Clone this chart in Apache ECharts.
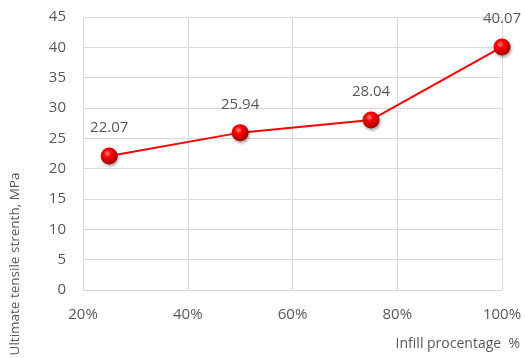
<!DOCTYPE html>
<html lang="en">
<head>
    <meta charset="utf-8">
    <title>Ultimate tensile strength</title>
    <script src="https://cdn.jsdelivr.net/npm/echarts@6/dist/echarts.min.js"></script>
    <style>
        html, body { margin: 0; padding: 0; background: #fff; }
        #chart { width: 525px; height: 358px; }
    </style>
</head>
<body>
    <div id="chart"></div>
    <script>
        // infill percentage and measured strength
        var infill = [25, 50, 75, 100];
        var strength = [22.07, 25.94, 28.04, 40.07];
        var xTicks = [20, 40, 60, 80, 100];

        var pts = infill.map(function (x, i) { return [x, strength[i]]; });
        var txt = '#595959';
        var font = 'Open Sans';

        var chart = echarts.init(document.getElementById('chart'));
        chart.setOption({
            animation: false,
            grid: { left: 83, right: 23, top: 17, bottom: 68, outerBoundsMode: 'none' },
            // y title sits low, like the original, so it is drawn as graphic text
            graphic: [{
                type: 'text',
                x: 15,
                y: 264,
                rotation: Math.PI / 2,
                style: {
                    text: 'Ultimate tensile strenth, MPa',
                    fill: txt,
                    font: '13.5px "Open Sans"',
                    textAlign: 'center',
                    textVerticalAlign: 'middle'
                }
            }],
            xAxis: {
                type: 'value',
                min: xTicks[0],
                max: xTicks[xTicks.length - 1],
                interval: 20,
                name: 'Infill procentage  %',
                nameLocation: 'end',
                nameGap: 0,
                nameTextStyle: {
                    color: txt, fontFamily: font, fontSize: 14,
                    align: 'right', verticalAlign: 'top', padding: [47, -18, 0, 0]
                },
                axisLine: { show: true, lineStyle: { color: '#d9d9d9' } },
                axisTick: { show: false },
                splitLine: { show: true, lineStyle: { color: '#d9d9d9' } },
                axisLabel: {
                    color: txt, fontFamily: font, fontSize: 15, margin: 17,
                    formatter: '{value}%'
                }
            },
            yAxis: {
                type: 'value',
                min: 0,
                max: 45,
                interval: 5,
                axisLine: { show: false },
                axisTick: { show: false },
                splitLine: { lineStyle: { color: '#d9d9d9' } },
                axisLabel: { color: txt, fontFamily: font, fontSize: 15, margin: 17 }
            },
            series: [{
                type: 'line',
                data: pts,
                symbol: 'circle',
                symbolSize: 17,
                lineStyle: { color: '#ff0000', width: 2 },
                itemStyle: {
                    color: {
                        type: 'radial', x: 0.4, y: 0.35, r: 0.65,
                        colorStops: [
                            { offset: 0, color: '#ff8080' },
                            { offset: 0.35, color: '#ff0000' },
                            { offset: 1, color: '#a00000' }
                        ]
                    },
                    shadowColor: 'rgba(0,0,0,0.35)',
                    shadowBlur: 3,
                    shadowOffsetX: 1,
                    shadowOffsetY: 2
                },
                label: {
                    show: true,
                    position: 'top',
                    distance: 12,
                    color: txt,
                    fontFamily: font,
                    fontSize: 15,
                    formatter: function (p) { return p.value[1].toFixed(2); }
                }
            }]
        });
    </script>
</body>
</html>
